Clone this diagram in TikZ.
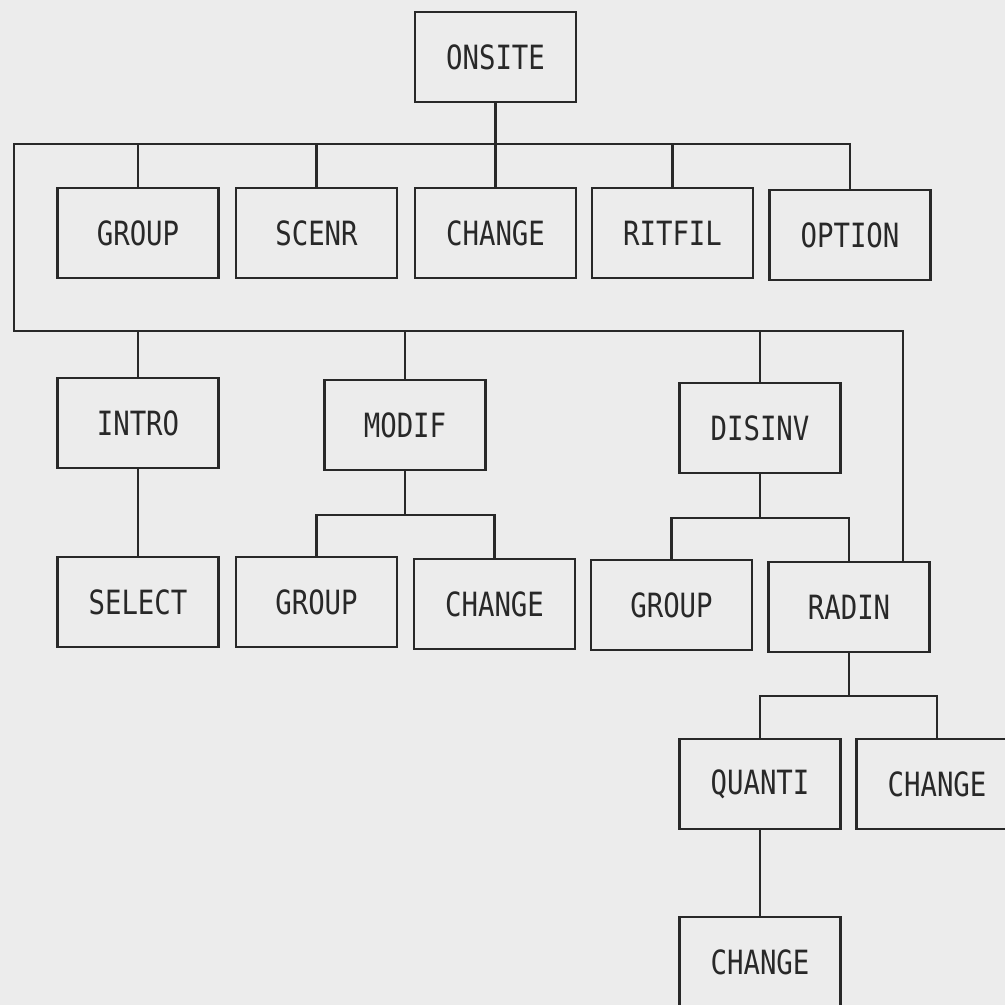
\documentclass[tikz,border=0pt]{standalone}
\usepackage{fontspec}
\usepackage{xcolor}
\usepackage{tikz}
\usetikzlibrary{positioning,calc}
\newfontfamily\boxfont[FakeStretch=0.82]{DejaVu Sans Mono}
\definecolor{paper}{RGB}{236,236,236}
\definecolor{ink}{RGB}{40,40,40}

\begin{document}
\begin{tikzpicture}[
    box/.style={draw=ink, line width=0.8pt, minimum width=1.61cm, minimum height=0.9cm,
        inner sep=0pt, text=ink, font=\boxfont\fontsize{9.5}{11}\selectfont},
    wire/.style={draw=ink, line width=0.6pt}]
    % page
    \clip (0,0) rectangle (10.05,-10.05);
    \fill[paper] (0,0) rectangle (10.05,-10.05);

    % Top level
    \node[box] (onsite) at (4.955,-0.57) {ONSITE};

    % First row
    \node[box] (group)  at (1.38,-2.33)  {GROUP};
    \node[box] (scenr)  at (3.165,-2.33) {SCENR};
    \node[box] (change) at (4.955,-2.33) {CHANGE};
    \node[box] (ritfil) at (6.725,-2.33) {RITFIL};
    \node[box] (option) at (8.5,-2.35)   {OPTION};

    % Second row
    \node[box] (intro)  at (1.38,-4.23) {INTRO};
    \node[box] (modif)  at (4.05,-4.25) {MODIF};
    \node[box] (disinv) at (7.6,-4.28)  {DISINV};

    % Third row
    \node[box] (select)  at (1.38,-6.02)  {SELECT};
    \node[box] (groupm)  at (3.165,-6.02) {GROUP};
    \node[box] (changem) at (4.945,-6.04) {CHANGE};
    \node[box] (groupd)  at (6.715,-6.05) {GROUP};
    \node[box] (radin)   at (8.49,-6.07)  {RADIN};

    % Below RADIN
    \node[box] (quanti)  at (7.6,-7.84)  {QUANTI};
    \node[box] (changer) at (9.37,-7.84) {CHANGE};
    \node[box] (changeq) at (7.6,-9.62)  {CHANGE};

    % Buses
    \coordinate (busL)  at (0.14,-1.44);
    \coordinate (busLL) at (0.14,-3.31);
    \coordinate (busR)  at (9.03,-3.31);
    \coordinate (mbus)  at (0,-5.15);
    \coordinate (dbus)  at (0,-5.18);
    \coordinate (rbus)  at (0,-6.96);

    \draw[wire] (onsite.south) -- (onsite.south |- busL);
    \draw[wire] (radin.north -| busR) -- (busR) -- (busLL) -- (busL)
        -- (busL -| option.north) -- (option.north);
    \foreach \n in {group,scenr,change,ritfil}
        \draw[wire] (\n.north) -- (\n.north |- busL);
    \foreach \n in {intro,modif,disinv}
        \draw[wire] (\n.north) -- (\n.north |- busLL);

    \draw[wire] (intro) -- (select);

    \draw[wire] (modif.south) -- (modif.south |- mbus);
    \draw[wire] (groupm.north) |- (mbus -| changem.north) -- (changem.north);

    \draw[wire] (disinv.south) -- (disinv.south |- dbus);
    \draw[wire] (groupd.north) |- (dbus -| radin.north) -- (radin.north);

    \draw[wire] (radin.south) -- (radin.south |- rbus);
    \draw[wire] (quanti.north) |- (rbus -| changer.north) -- (changer.north);

    \draw[wire] (quanti) -- (changeq);
\end{tikzpicture}
\end{document}
